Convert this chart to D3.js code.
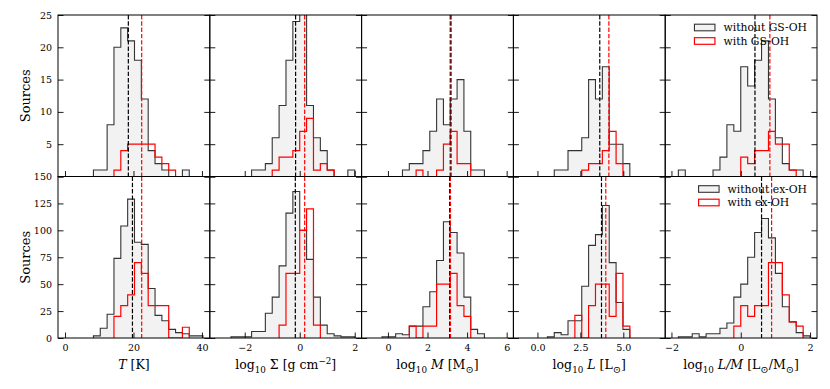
<!DOCTYPE html>
<html>
<head>
<meta charset="utf-8">
<script src="https://cdn.jsdelivr.net/npm/d3@7"></script>
<style>
body { margin: 0; background: #fff; }
text { font-family: "DejaVu Serif", serif; fill: #000; }
</style>
</head>
<body>
<svg id="chart" width="830" height="389"></svg>
<script>
'use strict'

// columns: T, log Sigma, log M, log L, log L/M
const binStart = [8.3, -2.5, -0.30, 0.58, -1.8]
const binWidth = [2, 0.25, 0.345, 0.4, 0.2]

// top row, GS-OH
const gsWithout = [
	[1, 1, 8, 20, 23, 21, 18, 12, 4, 2, 1, 0, 0, 1, 0, 0],
	[0, 0, 0, 1, 1, 2, 6, 11, 18, 24, 31, 11, 6, 4, 1, 0, 0, 1],
	[0, 0, 0, 1, 2, 2, 4, 7, 12, 8, 12, 15, 7, 1, 1],
	[0, 1, 1, 4, 4, 6, 15, 12, 17, 5, 5, 2],
	[1, 0, 0, 0, 0, 1, 3, 8, 7, 17, 14, 18, 21, 12, 6, 2, 1, 1, 0]
]
const gsWith = [
	[0, 0, 0, 1, 4, 5, 5, 5, 5, 3, 2, 1, 0, 0, 0, 0],
	[0, 0, 0, 0, 0, 0, 1, 3, 3, 4, 7, 9, 1, 2, 1, 0, 0, 0],
	[0, 0, 0, 0, 0, 1, 0, 0, 1, 5, 7, 2, 2, 0, 0],
	[0, 0, 0, 0, 0, 1, 2, 2, 4, 7, 2, 0],
	[0, 0, 0, 0, 0, 0, 0, 0, 0, 3, 2, 4, 4, 7, 5, 5, 1, 0, 0]
]
const gsMedWithout = [18.5, -0.15, 3.15, 3.63, 0.41]
const gsMedWith = [22.4, 0.18, 3.2, 4.16, 0.84]

// bottom row, ex-OH
const exWithout = [
	[2, 9, 22, 74, 104, 129, 89, 87, 46, 21, 16, 8, 5, 4, 2, 2],
	[1, 1, 1, 6, 6, 23, 38, 67, 116, 136, 100, 73, 38, 12, 4, 2, 1, 1],
	[1, 1, 4, 3, 11, 11, 29, 43, 72, 108, 98, 79, 38, 8, 4],
	[1, 5, 3, 16, 16, 48, 86, 96, 123, 70, 33, 8],
	[1, 1, 4, 1, 4, 4, 9, 14, 38, 50, 75, 98, 111, 93, 60, 29, 15, 5, 2]
]
const exWith = [
	[0, 0, 0, 20, 30, 40, 70, 60, 30, 30, 30, 0, 0, 10, 0, 0],
	[0, 0, 0, 0, 0, 0, 0, 12, 60, 60, 100, 120, 12, 0, 0, 0, 0, 0],
	[0, 0, 0, 0, 11, 0, 11, 11, 50, 50, 60, 30, 20, 0, 0],
	[0, 0, 0, 0, 21, 0, 30, 50, 50, 20, 60, 11],
	[0, 0, 0, 0, 0, 0, 0, 0, 11, 30, 20, 30, 30, 70, 70, 40, 15, 11, 0]
]
const exMedWithout = [19.7, -0.16, 3.12, 3.73, 0.6]
const exMedWith = [22.4, 0.18, 3.16, 3.98, 0.89]

const xLimits = [[-2.05, 42.3], [-3.27, 2.25], [-1.33, 6.34], [-1.4, 7.44], [-2.18, 2.2]]
const xTickVals = [[0, 20, 40], [-2, 0, 2], [0, 2, 4, 6], [0, 2.5, 5], [-2, 0, 2]]
const yTopTicks = [0, 5, 10, 15, 20, 25]
const yBotTicks = [0, 25, 50, 75, 100, 125, 150]
const gsLegend = ["without GS-OH", "with GS-OH"]
const exLegend = ["without ex-OH", "with ex-OH"]

// axis label pieces: [text, italic, shift] shift: 0 normal, -1 sub, 1 sup
const xLabels = [
	[["T", true, 0], [" [K]", false, 0]],
	[["log", false, 0], ["10", false, -1], [" Σ [g cm", false, 0], ["−2", false, 1], ["]", false, 0]],
	[["log", false, 0], ["10", false, -1], [" ", false, 0], ["M", true, 0], [" [M", false, 0], ["⊙", false, -1], ["]", false, 0]],
	[["log", false, 0], ["10", false, -1], [" ", false, 0], ["L", true, 0], [" [L", false, 0], ["⊙", false, -1], ["]", false, 0]],
	[["log", false, 0], ["10", false, -1], [" ", false, 0], ["L/M", true, 0], [" [L", false, 0], ["⊙", false, -1], ["/M", false, 0], ["⊙", false, -1], ["]", false, 0]]
]

function stepPoints(start, width, counts){
	let i0 = counts.findIndex(d => d > 0)
	let i1 = counts.length - 1
	while (i1 > 0 && counts[i1] == 0) i1--
	let pts = [[start + i0 * width, 0]]
	for (let i = i0; i <= i1; i++){
		pts.push([start + i * width, counts[i]])
	}
	pts.push([start + (i1 + 1) * width, counts[i1]])
	pts.push([start + (i1 + 1) * width, 0])
	return pts
}

function addRich(textSel, parts, size){
	let cur = 0
	parts.forEach(function(p){
		let target = p[2] == -1 ? size * 0.3 : (p[2] == 1 ? -size * 0.38 : 0)
		let fs = p[2] != 0 ? size * 0.7 : size
		if (p[0] == "⊙") fs = size * 0.8
		textSel.append("tspan")
			.attr("dy", target - cur)
			.attr("font-style", p[1] ? "italic" : "normal")
			.attr("font-size", fs)
			.text(p[0])
		cur = target
	})
}

function render(){
	let width = 830
	let height = 389
	let padding = {left: 58, right: 13, top: 15, bottom: 51}
	let pw = (width - padding.left - padding.right) / 5
	let ph = (height - padding.top - padding.bottom) / 2
	let svg = d3.select("#chart")

	let rows = [
		{without: gsWithout, with: gsWith, medW: gsMedWithout, medO: gsMedWith, yMax: 25, ticks: yTopTicks, legend: gsLegend},
		{without: exWithout, with: exWith, medW: exMedWithout, medO: exMedWith, yMax: 150, ticks: yBotTicks, legend: exLegend}
	]

	let tick = 5.5
	let line = d3.line().curve(d3.curveStepAfter)

	rows.forEach(function(row, r){
		for (let c = 0; c < 5; c++){
			let x0 = padding.left + c * pw
			let y0 = padding.top + r * ph
			let g = svg.append("g").attr("transform", "translate(" + x0 + "," + y0 + ")")
			let xScale = d3.scaleLinear().domain(xLimits[c]).range([0, pw])
			let yScale = d3.scaleLinear().domain([0, row.yMax]).range([ph, 0])
			line.x(d => xScale(d[0])).y(d => yScale(d[1]))

			let clipId = "clip" + r + "_" + c
			g.append("clipPath").attr("id", clipId)
				.append("rect").attr("width", pw).attr("height", ph)
			let inner = g.append("g").attr("clip-path", "url(#" + clipId + ")")

			inner.append("path")
				.attr("d", line(stepPoints(binStart[c], binWidth[c], row.without[c])))
				.attr("fill", "#f2f2f2")
				.attr("stroke", "#333")
				.attr("stroke-width", 1.1)
			inner.append("path")
				.attr("d", line(stepPoints(binStart[c], binWidth[c], row.with[c])))
				.attr("fill", "none")
				.attr("stroke", "#ff0000")
				.attr("stroke-width", 1.2)

			inner.append("line")
				.attr("x1", xScale(row.medW[c])).attr("x2", xScale(row.medW[c]))
				.attr("y1", 0).attr("y2", ph)
				.attr("stroke", "#000").attr("stroke-width", 1.2)
				.attr("stroke-dasharray", "4.4,1.9")
			inner.append("line")
				.attr("x1", xScale(row.medO[c])).attr("x2", xScale(row.medO[c]))
				.attr("y1", 0).attr("y2", ph)
				.attr("stroke", "#ff0000").attr("stroke-width", 1.2)
				.attr("stroke-dasharray", "4.4,1.9")

			// axes, ticks pointing in
			let yl = g.append("g")
				.call(d3.axisLeft(yScale).tickValues(row.ticks).tickSize(-tick).tickSizeOuter(0).tickPadding(6)
					.tickFormat(d => (c == 0 && !(r == 0 && d == 0)) ? d : ""))
			let yr = g.append("g").attr("transform", "translate(" + pw + ",0)")
				.call(d3.axisRight(yScale).tickValues(row.ticks).tickSize(-tick).tickSizeOuter(0).tickFormat(""))
			let fmt = c == 3 ? d3.format(".1f") : d3.format("d")
			let xb = g.append("g").attr("transform", "translate(0," + ph + ")")
				.call(d3.axisBottom(xScale).tickValues(xTickVals[c]).tickSize(-tick).tickSizeOuter(0).tickPadding(6)
					.tickFormat(d => r == 1 ? fmt(d) : ""))
			;[yl, yr, xb].forEach(function(a){
				a.select(".domain").remove()
				a.selectAll("line").attr("stroke", "#000").attr("stroke-width", 0.9)
				a.selectAll("text").attr("font-family", "DejaVu Serif").attr("font-size", 9.5).attr("fill", "#000")
			})

			g.append("rect")
				.attr("width", pw).attr("height", ph)
				.attr("fill", "none").attr("stroke", "#000").attr("stroke-width", 1)

			if (r == 1){
				let t = svg.append("text")
					.attr("x", x0 + pw / 2).attr("y", 369)
					.attr("text-anchor", "middle")
					.attr("font-size", 12.5)
				addRich(t, xLabels[c], 12.5)
			}

			if (c == 4){
				let leg = g.append("g")
				let labels = row.legend.map(function(s, i){
					return leg.append("text").attr("y", 12.5 + i * 13.5).attr("dy", "0.35em")
						.attr("font-size", 10.8).text(s)
				})
				let maxLen = d3.max(labels, t => t.node().getComputedTextLength())
				let textX = pw - 10 - maxLen
				labels.forEach(t => t.attr("x", textX))
				leg.append("rect").attr("x", textX - 29).attr("y", 12.5 - 3.3)
					.attr("width", 20.5).attr("height", 6.6)
					.attr("fill", "#f2f2f2").attr("stroke", "#333").attr("stroke-width", 1.1)
				leg.append("rect").attr("x", textX - 29).attr("y", 26 - 3.3)
					.attr("width", 20.5).attr("height", 6.6)
					.attr("fill", "none").attr("stroke", "#ff0000").attr("stroke-width", 1.2)
			}
		}

		svg.append("text")
			.attr("transform", "translate(25," + (padding.top + r * ph + ph / 2) + ") rotate(-90)")
			.attr("text-anchor", "middle").attr("dy", "0.35em")
			.attr("font-size", 13)
			.text("Sources")
	})
}

render()
</script>
</body>
</html>
